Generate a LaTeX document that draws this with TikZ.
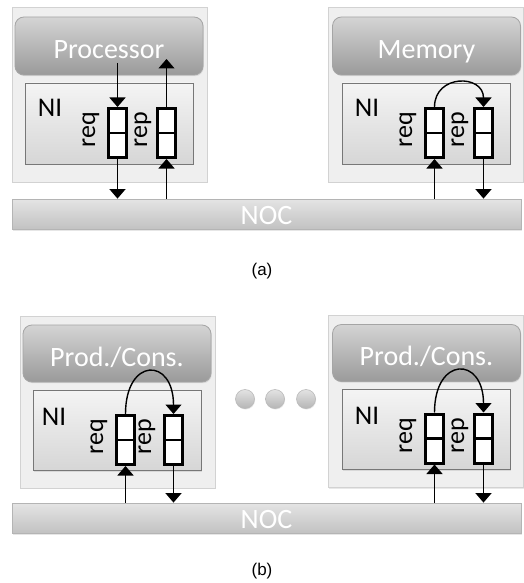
\documentclass[tikz,border=0pt]{standalone}
\usepackage{fontspec}
\setmainfont{Carlito}
\newfontfamily\capfont{Liberation Sans}
\usetikzlibrary{arrows.meta,shadows}

\definecolor{outerfill}{HTML}{EFEFEF}
\definecolor{outerline}{HTML}{D2D2D2}
\definecolor{coretop}{HTML}{D4D4D4}
\definecolor{corebot}{HTML}{9A9A9A}
\definecolor{coreline}{HTML}{A5A5A5}
\definecolor{nitop}{HTML}{F4F4F4}
\definecolor{nibot}{HTML}{D6D6D6}
\definecolor{niline}{HTML}{777777}
\definecolor{noctop}{HTML}{E4E4E4}
\definecolor{nocbot}{HTML}{C2C2C2}
\definecolor{nocline}{HTML}{B4B4B4}

\tikzset{
  tile/.style={draw=outerline, fill=outerfill, line width=0.8pt, inner sep=0pt,
    minimum width=195pt, minimum height=175pt,
    drop shadow={shadow xshift=1.2pt, shadow yshift=-1.2pt, opacity=0.18}},
  core/.style={draw=coreline, top color=coretop, bottom color=corebot, rounded corners=9pt,
    line width=0.8pt, minimum width=188pt, minimum height=58pt, inner sep=0pt,
    text=white, font=\fontsize{28}{30}\selectfont, text height=25pt, text depth=0pt,
    drop shadow={shadow xshift=0.8pt, shadow yshift=-1.2pt, opacity=0.2}},
  nibox/.style={draw=niline, top color=nitop, bottom color=nibot, line width=0.9pt,
    minimum width=168pt, minimum height=81pt, inner sep=0pt,
    drop shadow={shadow xshift=1pt, shadow yshift=-1pt, opacity=0.2}},
  nilabel/.style={font=\fontsize{27}{29}\selectfont, inner sep=0pt},
  buflabel/.style={font=\fontsize{26}{28}\selectfont, rotate=90, inner sep=0pt},
  buffer/.style={draw=black, fill=white, line width=3pt, minimum width=18pt,
    minimum height=49pt, inner sep=0pt},
  divider/.style={line width=2.2pt},
  noc/.style={draw=nocline, top color=noctop, bottom color=nocbot, line width=0.8pt,
    minimum width=509pt, minimum height=30pt, inner sep=0pt, text=white,
    font=\fontsize{28}{30}\selectfont, text height=20pt, text depth=0pt,
    drop shadow={shadow xshift=1.2pt, shadow yshift=-1.5pt, opacity=0.2}},
  arr/.style={line width=1.4pt, -{Triangle[width=16pt,length=9.5pt]}},
  loop/.style={line width=1.4pt, -{Triangle[width=16pt,length=9.5pt]}},
  dot/.style={circle, draw=gray!55, top color=gray!22, bottom color=gray!58,
    line width=0.6pt, minimum size=19pt, inner sep=0pt,
    drop shadow={shadow xshift=0.6pt, shadow yshift=-1pt, opacity=0.2}},
  caption/.style={font=\capfont\fontsize{17}{19}\selectfont, inner sep=0pt}
}

\begin{document}
\begin{tikzpicture}[x=1pt, y=-1pt]
\useasboundingbox (0,0) rectangle (524,583);

% ---------------- (a) processor and memory ----------------
\node[tile] (tileP) at (109.5,94.5) {};
\node[core] (proc) at (109,46) {Processor};
\node[nibox] (niP) at (109,123.5) {};
\node[nilabel] (niPl) at (50,108) {NI};
\node[buffer] (reqP) at (117.5,133) {};
\node[buffer] (repP) at (166.5,133) {};
\draw[divider] (reqP.west) -- (reqP.east);
\draw[divider] (repP.west) -- (repP.east);
\node[buflabel] (reqPl) at (91,130) {req};
\node[buflabel] (repPl) at (143,130) {rep};

\node[tile] (tileM) at (425.5,94.5) {};
\node[core] (mem) at (426.5,46) {Memory};
\node[nibox] (niM) at (426,123.5) {};
\node[nilabel] (niMl) at (367,108) {NI};
\node[buffer] (reqM) at (434.5,133) {};
\node[buffer] (repM) at (483.5,133) {};
\draw[divider] (reqM.west) -- (reqM.east);
\draw[divider] (repM.west) -- (repM.east);
\node[buflabel] (reqMl) at (408,130) {req};
\node[buflabel] (repMl) at (460,130) {rep};

\node[noc] (nocA) at (266.5,214) {NOC};
\node[caption] (capA) at (262,271) {(a)};

% processor side links
\coordinate (procOut) at (117.5,63);
\coordinate (procIn) at (166.5,59);
\draw[arr] (procOut) -- (reqP.north);
\draw[arr] (repP.north) -- (procIn);
\draw[arr] (reqP.south) -- (reqP.south |- nocA.north);
\draw[arr] (repP.south |- nocA.north) -- (repP.south);

% memory side links
\draw[loop] (reqM.north) .. controls (434.5,74) and (483.5,74) .. (repM.north);
\draw[arr] (reqM.south |- nocA.north) -- (reqM.south);
\draw[arr] (repM.south) -- (repM.south |- nocA.north);

% ---------------- (b) producers / consumers ----------------
\node[tile, minimum height=172pt] (tileL) at (117.5,402) {};
\node[core, minimum height=57pt] (pcL) at (117,353.5) {Prod./Cons.};
\node[nibox, minimum height=80pt] (niL) at (117,430.5) {};
\node[nilabel] (niLl) at (54,417) {NI};
\node[buffer] (reqL) at (125.5,440) {};
\node[buffer] (repL) at (173.5,440) {};
\draw[divider] (reqL.west) -- (reqL.east);
\draw[divider] (repL.west) -- (repL.east);
\node[buflabel] (reqLl) at (99,437) {req};
\node[buflabel] (repLl) at (147,437) {rep};

\node[tile, minimum height=172pt] (tileR) at (425.5,401.5) {};
\node[core, minimum height=57pt] (pcR) at (426.5,353) {Prod./Cons.};
\node[nibox, minimum height=80pt] (niR) at (426,429.5) {};
\node[nilabel] (niRl) at (367,416) {NI};
\node[buffer] (reqR) at (434.5,438.5) {};
\node[buffer] (repR) at (483.5,438.5) {};
\draw[divider] (reqR.west) -- (reqR.east);
\draw[divider] (repR.west) -- (repR.east);
\node[buflabel] (reqRl) at (408,435.5) {req};
\node[buflabel] (repRl) at (460,435.5) {rep};

\node[dot] (d1) at (245,399) {};
\node[dot] (d2) at (275,399) {};
\node[dot] (d3) at (306,399) {};

\node[noc] (nocB) at (266.5,518) {NOC};
\node[caption] (capB) at (262,571) {(b)};

\draw[loop] (reqL.north) .. controls (125.5,357) and (173.5,357) .. (repL.north);
\draw[arr] (reqL.south |- nocB.north) -- (reqL.south);
\draw[arr] (repL.south) -- (repL.south |- nocB.north);

\draw[loop] (reqR.north) .. controls (434.5,356) and (483.5,356) .. (repR.north);
\draw[arr] (reqR.south |- nocB.north) -- (reqR.south);
\draw[arr] (repR.south) -- (repR.south |- nocB.north);
\end{tikzpicture}
\end{document}
